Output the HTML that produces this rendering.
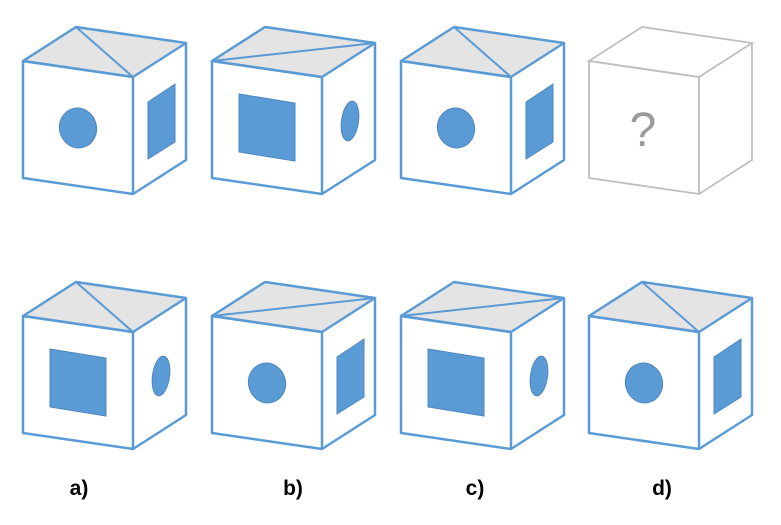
<!DOCTYPE html>
<html><head><style>html,body{margin:0;padding:0;background:#fff;width:781px;height:525px;overflow:hidden}</style></head>
<body>
<svg width="781" height="525" viewBox="0 0 781 525" xmlns="http://www.w3.org/2000/svg">
<defs>
<g id="cube">
<polygon points="0,0 53,-34 163,-18 110,16" fill="#e4e4e4"/>
<polygon points="0,0 110,16 110,133 0,117" fill="#fff"/>
<polygon points="110,16 163,-18 163,99 110,133" fill="#fff"/>
</g>
<g id="edges" fill="none" stroke="#5b9bd5" stroke-width="2.5" stroke-linejoin="round">
<polygon points="0,0 53,-34 163,-18 110,16"/>
<polygon points="0,0 110,16 110,133 0,117"/>
<polyline points="163,-18 163,99 110,133"/>
</g>
<line id="d1" x1="53" y1="-34" x2="110" y2="16" stroke="#5b9bd5" stroke-width="2"/>
<line id="d2" x1="0" y1="0" x2="163" y2="-18" stroke="#5b9bd5" stroke-width="2"/>
<ellipse id="fc" cx="55" cy="67" rx="18.5" ry="20" transform="rotate(-15 55 67)" fill="#5b9bd5" stroke="#4f86bd" stroke-width="1"/>
<polygon id="rr" points="125,41 152,23 152,81 125,98" fill="#5b9bd5" stroke="#4f86bd" stroke-width="1"/>
<polygon id="fs" points="27,33 83,42 83,100 27,91" fill="#5b9bd5" stroke="#4f86bd" stroke-width="1"/>
<ellipse id="re" cx="138" cy="60" rx="8.5" ry="20" transform="rotate(8 138 60)" fill="#5b9bd5" stroke="#4f86bd" stroke-width="1"/>
</defs>
<!-- top row -->
<g transform="translate(23,61)"><use href="#cube"/><use href="#d1"/><use href="#fc"/><use href="#rr"/><use href="#edges"/></g>
<g transform="translate(212,61)"><use href="#cube"/><use href="#d2"/><use href="#fs"/><use href="#re"/><use href="#edges"/></g>
<g transform="translate(401,61)"><use href="#cube"/><use href="#d1"/><use href="#fc"/><use href="#rr"/><use href="#edges"/></g>
<g transform="translate(589,61)" fill="none" stroke="#bfbfbf" stroke-width="1.8">
<polygon points="0,0 53,-34 163,-18 110,16"/>
<polygon points="0,0 110,16 110,133 0,117"/>
<polyline points="163,-18 163,99 110,133"/>
</g>
<text x="643" y="146" font-family="Liberation Sans, sans-serif" font-size="48" fill="#9a9a9a" text-anchor="middle">?</text>
<!-- bottom row -->
<g transform="translate(23,316)"><use href="#cube"/><use href="#d1"/><use href="#fs"/><use href="#re"/><use href="#edges"/></g>
<g transform="translate(212,316)"><use href="#cube"/><use href="#d2"/><use href="#fc"/><use href="#rr"/><use href="#edges"/></g>
<g transform="translate(401,316)"><use href="#cube"/><use href="#d2"/><use href="#fs"/><use href="#re"/><use href="#edges"/></g>
<g transform="translate(589,316)"><use href="#cube"/><use href="#d1"/><use href="#fc"/><use href="#rr"/><use href="#edges"/></g>
<g font-family="Liberation Sans, sans-serif" font-size="21" font-weight="bold" fill="#000" text-anchor="middle">
<text x="79" y="495">a)</text>
<text x="293" y="495">b)</text>
<text x="475" y="495">c)</text>
<text x="662" y="495">d)</text>
</g>
</svg>
</body></html>
